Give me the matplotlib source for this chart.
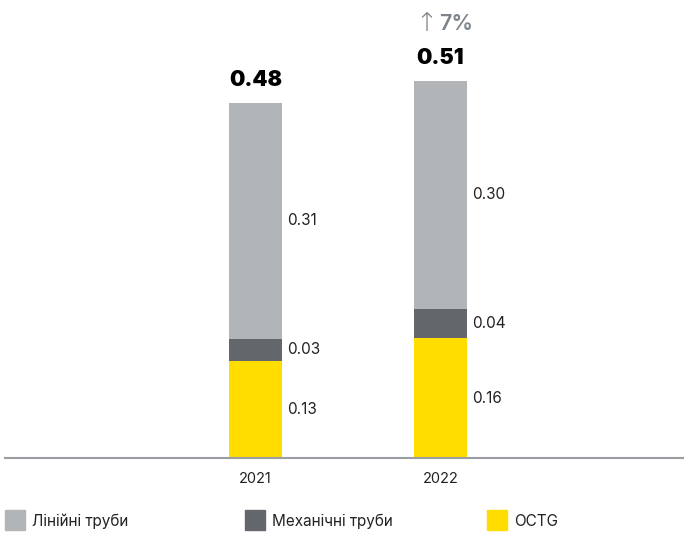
import numpy as np
import matplotlib.pyplot as plt
from matplotlib.patches import Rectangle

plt.rcParams['font.family'] = ['Inter', 'DejaVu Sans']

years = ['2021', '2022']
octg = [0.131, 0.162]
mech = [0.030, 0.040]
line_pipe = [0.319, 0.308]
octg_lbl = ['0.13', '0.16']
mech_lbl = ['0.03', '0.04']
line_lbl = ['0.31', '0.30']
totals = ['0.48', '0.51']
growth = '7%'

series_names = ['Лінійні труби', 'Механічні труби', 'OCTG']
c_line, c_mech, c_octg = '#b1b5b8', '#63676b', '#ffdd00'

fig = plt.figure(figsize=(6.84, 5.34), dpi=100)
ax = fig.add_axes([5 / 684, 76 / 534, 679 / 684, 458 / 534])

x = np.arange(len(years))
w = 0.286
octg = np.array(octg)
mech = np.array(mech)
line_pipe = np.array(line_pipe)

ax.bar(x, octg, w, color=c_octg)
ax.bar(x, mech, w, bottom=octg, color=c_mech)
ax.bar(x, line_pipe, w, bottom=octg + mech, color=c_line)

tops = octg + mech + line_pipe
dx = w / 2 + 0.03
for i in range(len(years)):
    ax.text(x[i] + dx, octg[i] / 2, octg_lbl[i], va='center', ha='left', fontsize=11, color='#222222')
    ax.text(x[i] + dx, octg[i] + mech[i] / 2, mech_lbl[i], va='center', ha='left', fontsize=11, color='#222222')
    ax.text(x[i] + dx, octg[i] + mech[i] + line_pipe[i] / 2, line_lbl[i], va='center', ha='left', fontsize=11, color='#222222')
    ax.text(x[i], tops[i] + 0.031, totals[i], ha='center', va='center', fontsize=15.5, fontweight='black', color='#000000')

# growth marker above 2022
gy = tops[1] + 0.077
ax.text(x[1] - 0.015, gy, '\u2191', ha='right', va='center', fontsize=19,
        color='#7d848b', family=['DejaVu Sans'], fontweight='light')
ax.text(x[1] - 0.008, gy, growth, ha='left', va='center', fontsize=15.5,
        color='#7d848b', fontweight='semibold')

ax.set_xlim(-1.354, 2.316)
ax.set_ylim(0, 0.619)
ax.set_xticks(x)
ax.set_xticklabels(years, fontsize=10.5, color='#222222')
ax.tick_params(axis='x', length=0, pad=10)
ax.set_yticks([])
for s in ['top', 'left', 'right']:
    ax.spines[s].set_visible(False)
ax.spines['bottom'].set_color('#9a9ea2')
ax.spines['bottom'].set_linewidth(1.5)

# legend
leg_x = [5, 245, 487]
for px, name, col in zip(leg_x, series_names, [c_line, c_mech, c_octg]):
    fig.patches.append(Rectangle((px / 684, 4 / 534), 20 / 684, 20 / 534,
                                 transform=fig.transFigure, color=col))
    fig.text((px + 27) / 684, 13 / 534, name, va='center', ha='left', fontsize=11, color='#222222')

fig.savefig('out.png', dpi=100)
